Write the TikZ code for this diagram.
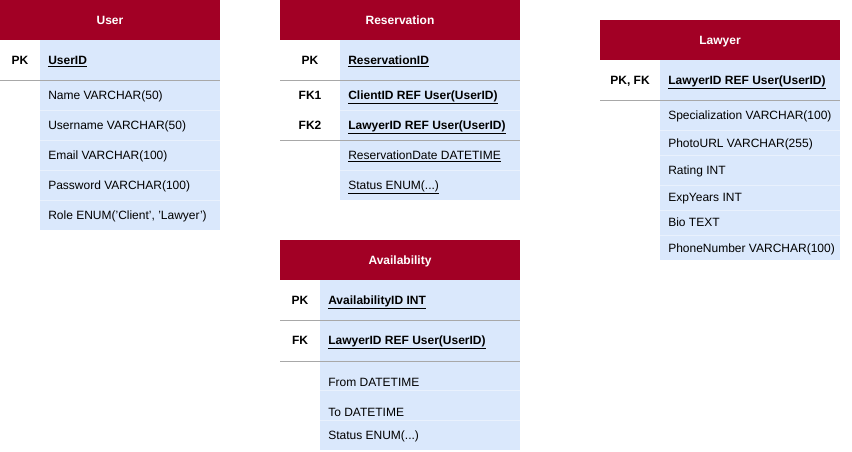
\documentclass[tikz,border=0pt]{standalone}
\usepackage{fontspec}
\setmainfont{Liberation Sans}
\definecolor{hdrred}{HTML}{A20025}
\definecolor{cellblue}{HTML}{DAE8FC}
\definecolor{rowline}{HTML}{E9F1FD}
\definecolor{sepgray}{HTML}{A8A8A8}

\begin{document}
\begin{tikzpicture}[x=0.75pt,y=-0.75pt,
hdrtxt/.style={text=white,font=\bfseries\fontsize{9}{11}\selectfont,inner sep=0pt,anchor=base,yshift=-3.2pt},
keytxt/.style={font=\bfseries\fontsize{9}{11}\selectfont,inner sep=0pt,anchor=base,yshift=-3.2pt},
fld/.style={anchor=base west,font=\fontsize{9}{11}\selectfont,inner sep=0pt,yshift=-3.2pt},
sep/.style={draw=sepgray,line width=0.75pt},
rowsep/.style={draw=rowline,line width=0.75pt}]

\useasboundingbox (0,0) rectangle (852,451);

% User
\fill[hdrred] (0,0) rectangle (220,40);
\fill[cellblue] (40,40) rectangle (220,230);
\foreach \y in {110,140,170,200}
{
\draw[rowsep] (40,\y)--(220,\y);
}
\draw[sep] (0,80)--(220,80);
\node[hdrtxt] (user) at (110,20) {User};
\node[keytxt] (userpk) at (20,60) {PK};
\node[fld] (userid) at (48,60) {\textbf{\underline{UserID}}};
\foreach \y/\t [count=\i] in {95/Name VARCHAR(50),125/Username VARCHAR(50),155/Email VARCHAR(100),185/Password VARCHAR(100),215/{Role ENUM('Client', 'Lawyer')}}
{
\node[fld] (userf\i) at (48,\y) {\t};
}

% Reservation
\fill[hdrred] (280,0) rectangle (520,40);
\fill[cellblue] (340,40) rectangle (520,200);
\foreach \y in {110,170}
{
\draw[rowsep] (340,\y)--(520,\y);
}
\draw[sep] (280,80)--(520,80) (280,140)--(520,140);
\node[hdrtxt] (resv) at (400,20) {Reservation};
\node[keytxt] (resvpk) at (310,60) {PK};
\node[keytxt] (resvfka) at (310,95) {FK1};
\node[keytxt] (resvfkb) at (310,125) {FK2};
\node[fld] (resvid) at (348,60) {\textbf{\underline{ReservationID}}};
\node[fld] (resvclient) at (348,95) {\textbf{\underline{ClientID REF User(UserID)}}};
\node[fld] (resvlawyer) at (348,125) {\textbf{\underline{LawyerID REF User(UserID)}}};
\node[fld] (resvdate) at (348,155) {\underline{ReservationDate DATETIME}};
\node[fld] (resvstatus) at (348,185) {\underline{Status ENUM(...)}};

% Lawyer
\fill[hdrred] (600,20) rectangle (840,60);
\fill[cellblue] (660,60) rectangle (840,260);
\foreach \y in {130,155,185,210,235}
{
\draw[rowsep] (660,\y)--(840,\y);
}
\draw[sep] (600,100)--(840,100);
\node[hdrtxt] (lawyer) at (720,40) {Lawyer};
\node[keytxt] (lawyerpk) at (630,80) {PK, FK};
\node[fld] (lawyerid) at (668,80) {\textbf{\underline{LawyerID REF User(UserID)}}};
\foreach \y/\t [count=\i] in {115/Specialization VARCHAR(100),143/PhotoURL VARCHAR(255),170/Rating INT,197/ExpYears INT,222/Bio TEXT,248/PhoneNumber VARCHAR(100)}
{
\node[fld] (lawyerf\i) at (668,\y) {\t};
}

% Availability
\fill[hdrred] (280,240) rectangle (520,280);
\fill[cellblue] (320,280) rectangle (520,450);
\foreach \y in {390,420}
{
\draw[rowsep] (320,\y)--(520,\y);
}
\draw[sep] (280,320)--(520,320) (280,361)--(520,361);
\node[hdrtxt] (avail) at (400,260) {Availability};
\node[keytxt] (availpk) at (300,300) {PK};
\node[keytxt] (availfk) at (300,340) {FK};
\node[fld] (availid) at (328,300) {\textbf{\underline{AvailabilityID INT}}};
\node[fld] (availlawyer) at (328,340) {\textbf{\underline{LawyerID REF User(UserID)}}};
\node[fld] (availfrom) at (328,382) {From DATETIME};
\node[fld] (availto) at (328,412) {To DATETIME};
\node[fld] (availstatus) at (328,435) {Status ENUM(...)};
\end{tikzpicture}
\end{document}
